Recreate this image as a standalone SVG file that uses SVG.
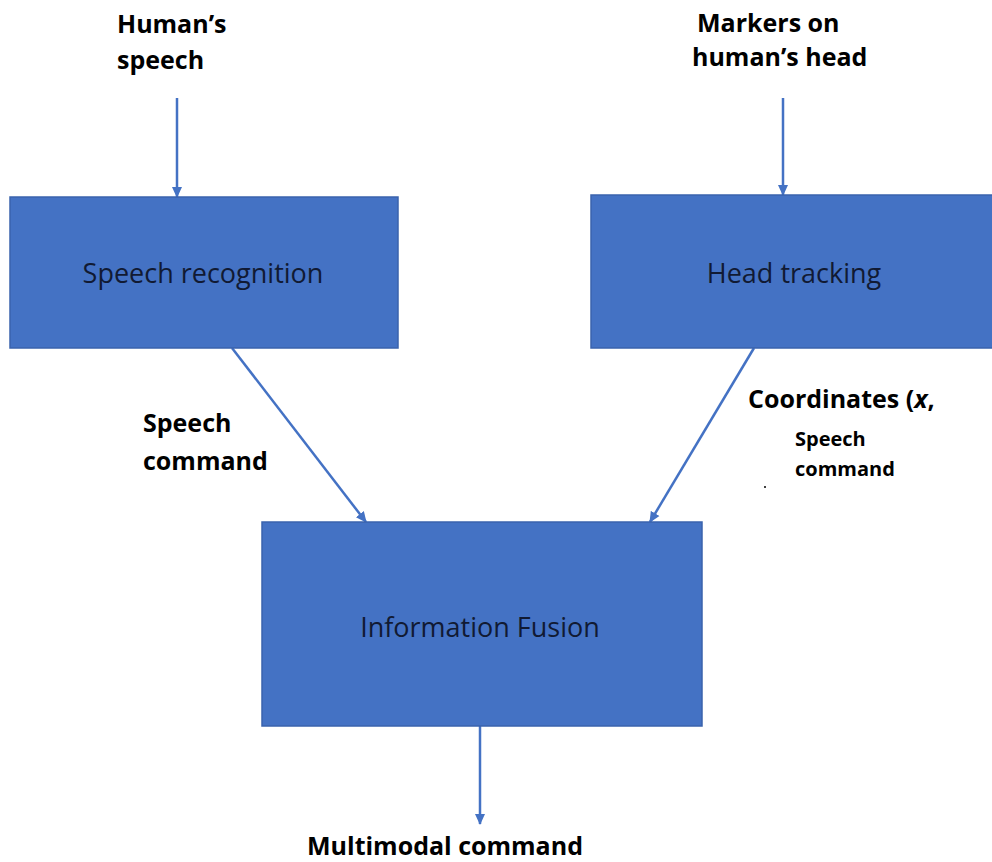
<svg xmlns="http://www.w3.org/2000/svg" width="992" height="862" viewBox="0 0 992 862">
<style>
.box{fill:#4472C4;stroke:#3A63AD;stroke-width:1.5}
.bt{font-family:"Open Sans","Liberation Sans",sans-serif;font-size:27px;fill:#111a33;text-anchor:middle}
.lb{font-family:"Open Sans","Liberation Sans",sans-serif;font-size:25px;font-weight:bold;fill:#000}
.sm{font-family:"Open Sans","Liberation Sans",sans-serif;font-size:20px;font-weight:bold;fill:#000}
.ln{stroke:#4472C4;stroke-width:2.5;fill:none;marker-end:url(#ah)}
</style>
<defs>
<marker id="ah" markerWidth="12" markerHeight="12" refX="10" refY="6" orient="auto" markerUnits="userSpaceOnUse" viewBox="0 0 12 12">
<path d="M0,1 L11,6 L0,11 Z" fill="#4472C4"/>
</marker>
</defs>
<rect width="992" height="862" fill="#fff"/>
<g id="connectors">
<line class="ln" x1="177" y1="98" x2="177" y2="197"/>
<line class="ln" x1="783" y1="98" x2="783" y2="195"/>
<line class="ln" x1="232" y1="348" x2="366" y2="522"/>
<line class="ln" x1="754" y1="348" x2="650" y2="522"/>
<line class="ln" x1="480" y1="726" x2="480" y2="824"/>
</g>
<g id="speech-recognition">
<rect class="box" x="10" y="197" width="388" height="151"/>
<text class="bt" x="203" y="283">Speech recognition</text>
</g>
<g id="head-tracking">
<rect class="box" x="591" y="195" width="402" height="153"/>
<text class="bt" x="794" y="283">Head tracking</text>
</g>
<g id="information-fusion">
<rect class="box" x="262" y="522" width="440" height="204"/>
<text class="bt" x="480" y="637">Information Fusion</text>
</g>
<g id="labels">
<text class="lb" x="117" y="33">Human’s</text>
<text class="lb" x="117" y="69">speech</text>
<text class="lb" x="697" y="32">Markers on</text>
<text class="lb" x="692" y="66">human’s head</text>
<text class="lb" x="143" y="432">Speech</text>
<text class="lb" x="143" y="470">command</text>
<text class="lb" x="748" y="408">Coordinates (<tspan font-style="italic">x</tspan>,</text>
<text class="sm" x="795" y="446">Speech</text>
<text class="sm" x="795" y="476">command</text>
<circle cx="765" cy="487" r="1" fill="#000"/>
<text class="lb" x="307" y="855">Multimodal command</text>
</g>
</svg>
